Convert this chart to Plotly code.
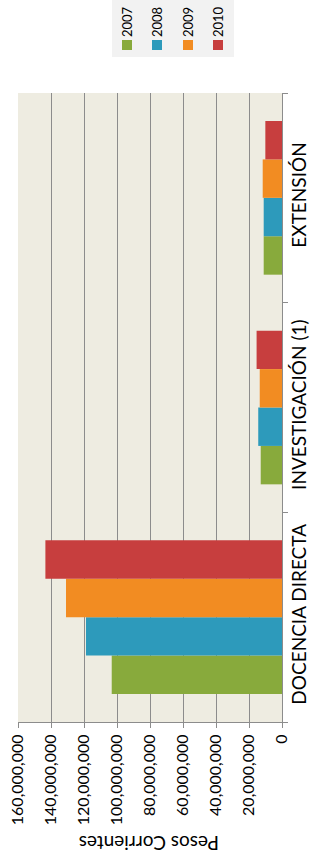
import plotly.graph_objects as go

categories = ["DOCENCIA DIRECTA", "INVESTIGACIÓN (1)", "EXTENSIÓN"]
years = ["2007", "2008", "2009", "2010"]
values_2007 = [103.2e6, 12.9e6, 11.1e6]
values_2008 = [118.8e6, 14.4e6, 11.1e6]
values_2009 = [130.9e6, 13.5e6, 11.7e6]
values_2010 = [143.4e6, 15.4e6, 10.1e6]
series = [values_2007, values_2008, values_2009, values_2010]
colors = ["#88AA3C", "#2D9ABB", "#F28C22", "#C73E3E"]

tick_values = [0, 20e6, 40e6, 60e6, 80e6, 100e6, 120e6, 140e6, 160e6]
tick_labels = ["0", "20,000,000", "40,000,000", "60,000,000", "80,000,000",
               "100,000,000", "120,000,000", "140,000,000", "160,000,000"]
axis_title = "Pesos Corrientes"

FONT = "Lato"
W, H = 313, 856
L, R, T, B = 18, 31, 93, 134
pw, ph = W - L - R, H - T - B

def px_x(x):
    return (x - L) / pw

def px_y(y):
    return (H - B - y) / ph

fig = go.Figure()
for name, vals, col in zip(years, series, colors):
    fig.add_trace(go.Bar(
        y=categories, x=vals, name=name, orientation="h",
        marker=dict(color=col, line=dict(width=0)),
        showlegend=False,
    ))

fig.update_layout(
    width=W, height=H,
    margin=dict(l=L, r=R, t=T, b=B, autoexpand=False),
    paper_bgcolor="white",
    plot_bgcolor="#EEECE1",
    barmode="group",
    bargap=0.267,
    bargroupgap=0,
    font=dict(family=FONT, color="#000000"),
    xaxis=dict(
        range=[160e6, 0],
        tickvals=tick_values, ticktext=tick_labels,
        tickangle=-90,
        tickfont=dict(size=16, family=FONT),
        showgrid=True, gridcolor="#8C8C8C", gridwidth=1,
        showline=True, linecolor="#8C8C8C", linewidth=1,
        ticks="outside", ticklen=5, tickcolor="#8C8C8C",
        zeroline=False, automargin=False,
    ),
    yaxis=dict(
        range=[-0.5, 2.5],
        side="right",
        tickangle=-90,
        tickfont=dict(size=19, family=FONT),
        showgrid=False,
        showline=True, linecolor="#8C8C8C", linewidth=1,
        ticks="outside", ticklen=5, tickcolor="#8C8C8C",
        tickson="boundaries",
        zeroline=False, automargin=False,
    ),
)

# axis title (upside down, as in the reference)
fig.add_annotation(
    text=axis_title, textangle=180, showarrow=False,
    xref="paper", yref="paper", x=px_x(149), y=px_y(844),
    xanchor="center", yanchor="middle",
    font=dict(size=19, family=FONT, color="#000000"),
)

# custom legend (rotated labels)
fig.add_shape(type="rect", xref="paper", yref="paper",
              x0=px_x(112), x1=px_x(234), y0=px_y(57), y1=px_y(0),
              fillcolor="#F2F2F2", line=dict(width=0), layer="below")
legend_x = [127, 157, 188, 218]
for name, col, cx in zip(years, colors, legend_x):
    fig.add_shape(type="rect", xref="paper", yref="paper",
                  x0=px_x(cx - 5), x1=px_x(cx + 5), y0=px_y(50), y1=px_y(40),
                  fillcolor=col, line=dict(width=0))
    fig.add_annotation(
        text=name, textangle=-90, showarrow=False,
        xref="paper", yref="paper", x=px_x(cx), y=px_y(22),
        xanchor="center", yanchor="middle",
        font=dict(size=13, family=FONT, color="#000000"),
    )

fig.write_html("out.html", config={"displayModeBar": False},
               post_script="document.body.style.margin='0';")
